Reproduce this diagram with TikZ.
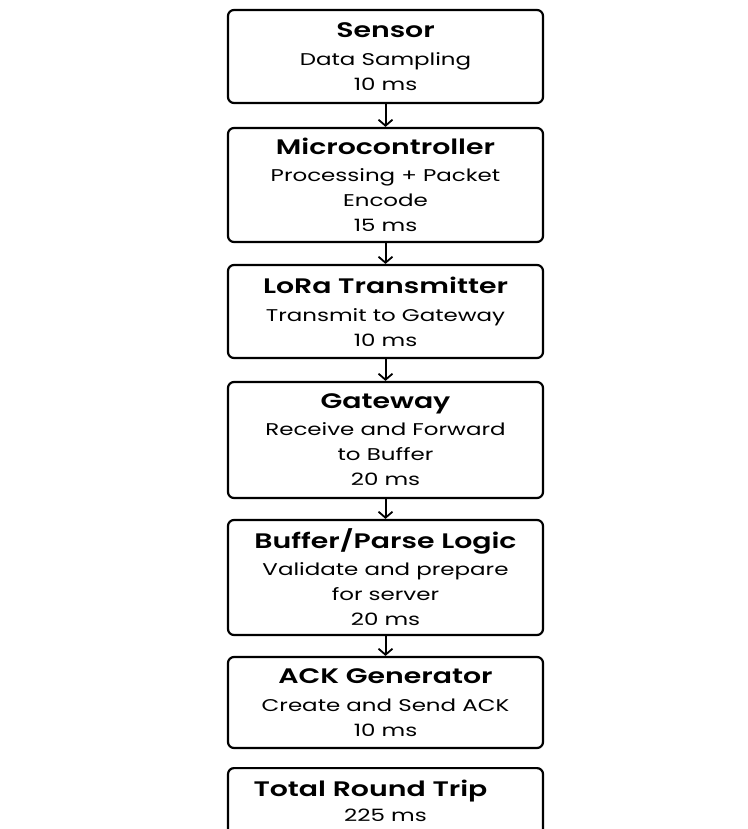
\documentclass[tikz,border=0pt]{standalone}
\usepackage{fontspec}
\setmainfont{Poppins}[FakeStretch=1.35,BoldFont={Poppins SemiBold}]
\usetikzlibrary{arrows.meta}
\tikzset{
  stage/.style={draw,line width=2.2pt,rounded corners=6pt,minimum width=315pt,align=center,inner sep=2pt,font=\fontsize{17}{25}\selectfont},
  flow/.style={-{Straight Barb[length=6pt,width=14pt,line width=1.8pt]},line width=2pt}
}
\newcommand{\stagetitle}[1]{{\fontsize{21}{26}\selectfont\bfseries #1}}
\begin{document}
\begin{tikzpicture}[x=1pt,y=-1pt]
\useasboundingbox (0,0) rectangle (747,829);
\clip (0,0) rectangle (747,829);
\node[stage,minimum height=93pt] (sensor) at (385.5,56.5) {\stagetitle{Sensor}\\[3pt]Data Sampling\\10 ms};
\node[stage,minimum height=114pt] (mcu) at (385.5,185) {\stagetitle{Microcontroller}\\[2pt]Processing + Packet\\Encode\\15 ms};
\node[stage,minimum height=93pt] (lora) at (385.5,311.5) {\stagetitle{LoRa Transmitter}\\[3pt]Transmit to Gateway\\10 ms};
\node[stage,minimum height=116pt] (gw) at (385.5,440) {\stagetitle{Gateway}\\[2pt]Receive and Forward\\to Buffer\\20 ms};
\node[stage,minimum height=115pt] (buf) at (385.5,577.5) {\stagetitle{Buffer/Parse Logic}\\[2pt]Validate and prepare\\for server\\20 ms};
\node[stage,minimum height=91pt] (ack) at (385.5,702.5) {\stagetitle{ACK Generator}\\[3pt]Create and Send ACK\\10 ms};
\node[stage,minimum height=91pt,anchor=north] (total) at (385.5,767) {\stagetitle{Total Round Trip}\hspace*{30pt}\\225 ms\\ };
\foreach \from/\to in {sensor/mcu,mcu/lora,lora/gw,gw/buf,buf/ack}
  \draw[flow] (\from) -- (\to);
\end{tikzpicture}
\end{document}
